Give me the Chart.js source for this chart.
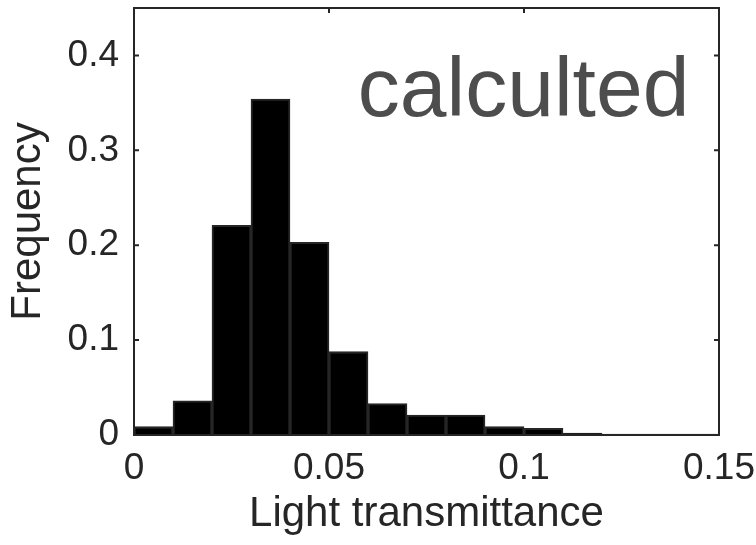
<!DOCTYPE html>
<html>
<head>
<meta charset="utf-8">
<script src="https://cdn.jsdelivr.net/npm/chart.js@4.4.1/dist/chart.umd.min.js"></script>
<style>
  body { margin: 0; background: #fff; }
  #wrap { width: 756px; height: 545px; }
</style>
</head>
<body>
<div id="wrap"><canvas id="histChart"></canvas></div>
<script>
// histogram bins (centres of 0.01 wide bins)
const binCenters = [0.005, 0.015, 0.025, 0.035, 0.045, 0.055, 0.065, 0.075,
                    0.085, 0.095, 0.105, 0.115, 0.125, 0.135, 0.145];
const frequency = [0.009, 0.036, 0.221, 0.354, 0.203, 0.088, 0.033, 0.021,
                   0.021, 0.009, 0.007, 0.002, 0.001, 0.001, 0.001];

const xTicks = [0, 0.05, 0.1, 0.15];
const yTicks = [0, 0.1, 0.2, 0.3, 0.4];

const xTitle = 'Light transmittance';
const yTitle = 'Frequency';
const note = 'calculted';

const axisColor = '#262626';
const fontFamily = '"Liberation Sans", Arial, Helvetica, sans-serif';

// box around the axes + inward tick marks, like matlab
const framePlugin = {
    id: 'frame',
    afterDatasetsDraw(chart) {
        const { ctx, chartArea: a, scales: { x, y } } = chart;
        const tl = 5;
        ctx.save();
        ctx.strokeStyle = axisColor;
        ctx.lineWidth = 2;
        ctx.strokeRect(a.left, a.top, a.right - a.left, a.bottom - a.top);
        ctx.beginPath();
        yTicks.forEach(v => {
            const py = y.getPixelForValue(v);
            ctx.moveTo(a.left, py); ctx.lineTo(a.left + tl, py);
            ctx.moveTo(a.right, py); ctx.lineTo(a.right - tl, py);
        });
        xTicks.forEach(v => {
            const px = x.getPixelForValue(v);
            ctx.moveTo(px, a.top); ctx.lineTo(px, a.top + tl);
            ctx.moveTo(px, a.bottom); ctx.lineTo(px, a.bottom - tl);
        });
        ctx.stroke();

        // text annotation inside the plot
        ctx.fillStyle = '#4d4d4d';
        ctx.font = '84px ' + fontFamily;
        ctx.textAlign = 'left';
        ctx.textBaseline = 'alphabetic';
        ctx.fillText(note, x.getPixelForValue(0.0574), y.getPixelForValue(0.336));
        ctx.restore();
    }
};

const ctx = document.getElementById('histChart').getContext('2d');

const histChart = new Chart(ctx, {
    type: 'bar',
    data: {
        datasets: [{
            label: yTitle,
            data: binCenters.map((c, i) => ({ x: c, y: frequency[i] })),
            backgroundColor: '#000000',
            borderColor: axisColor,
            borderWidth: 2,
            barPercentage: 1,
            categoryPercentage: 1
        }]
    },
    options: {
        responsive: true,
        maintainAspectRatio: false,
        animation: false,
        layout: { padding: { left: 0, top: 8, right: 37, bottom: 0 } },
        plugins: {
            legend: { display: false },
            tooltip: { enabled: false }
        },
        scales: {
            x: {
                type: 'linear',
                min: 0,
                max: 0.15,
                offset: false,
                grid: { display: false, drawTicks: false },
                border: { display: false },
                afterBuildTicks: (scale) => { scale.ticks = xTicks.map(v => ({ value: v })); },
                afterFit: (scale) => {
                    scale.height = 110;
                    scale.paddingLeft = 0;
                    scale.paddingRight = 0;
                },
                ticks: {
                    padding: 12,
                    color: axisColor,
                    font: { family: fontFamily, size: 37 },
                    maxRotation: 0,
                    callback: (v) => String(v)
                },
                title: {
                    display: true,
                    text: xTitle,
                    color: axisColor,
                    font: { family: fontFamily, size: 42 },
                    padding: { top: 0, bottom: 5 }
                }
            },
            y: {
                min: 0,
                max: 0.45,
                grid: { display: false, drawTicks: false },
                border: { display: false },
                afterBuildTicks: (scale) => { scale.ticks = yTicks.map(v => ({ value: v })); },
                afterFit: (scale) => {
                    scale.width = 134;
                    scale.paddingTop = 0;
                    scale.paddingBottom = 0;
                },
                ticks: {
                    padding: 15,
                    color: axisColor,
                    font: { family: fontFamily, size: 37 },
                    callback: (v) => String(v)
                },
                title: {
                    display: true,
                    text: yTitle,
                    color: axisColor,
                    font: { family: fontFamily, size: 42 },
                    padding: { top: 3, bottom: 0 }
                }
            }
        }
    },
    plugins: [framePlugin]
});
</script>
</body>
</html>
